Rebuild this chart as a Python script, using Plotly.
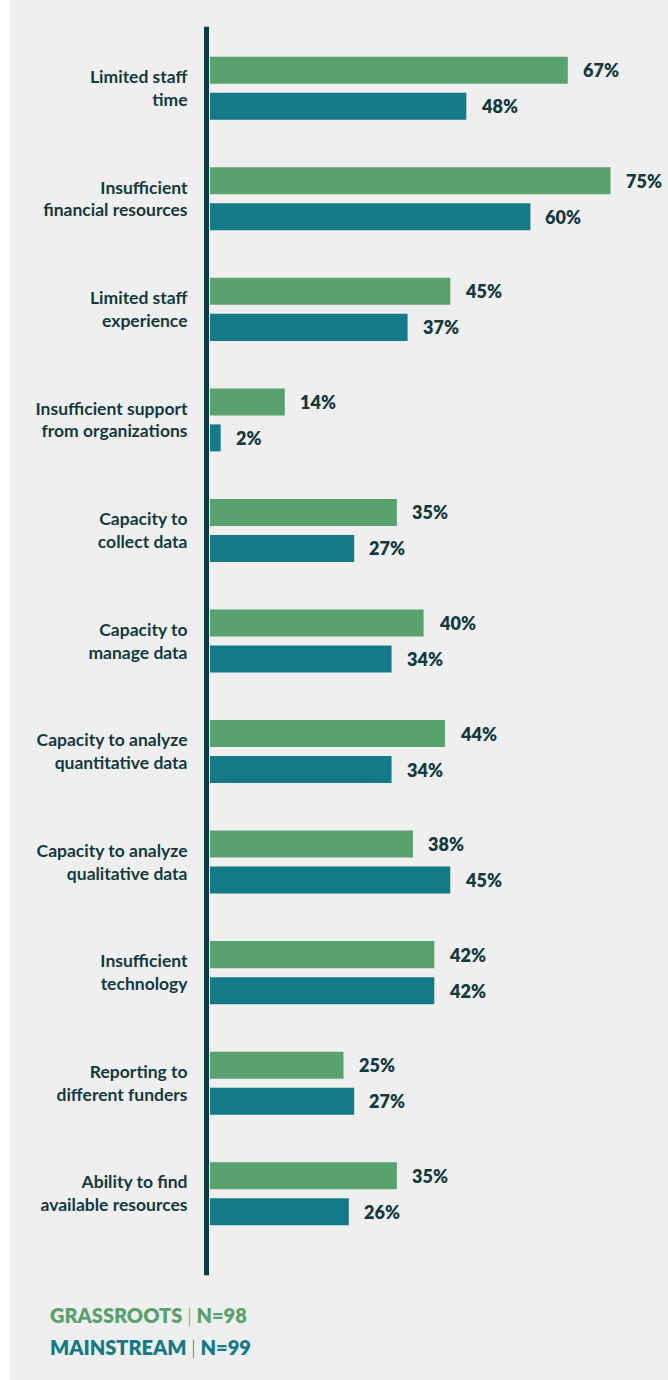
import plotly.graph_objects as go

categories = [
    "Limited staff<br>time",
    "Insufficient<br>financial resources",
    "Limited staff<br>experience",
    "Insufficient support<br>from organizations",
    "Capacity to<br>collect data",
    "Capacity to<br>manage data",
    "Capacity to analyze<br>quantitative data",
    "Capacity to analyze<br>qualitative data",
    "Insufficient<br>technology",
    "Reporting to<br>different funders",
    "Ability to find<br>available resources",
]
grassroots = [67, 75, 45, 14, 35, 40, 44, 38, 42, 25, 35]
mainstream = [48, 60, 37, 2, 27, 34, 34, 45, 42, 27, 26]
series_names = ["GRASSROOTS", "MAINSTREAM"]
series_n = ["N=98", "N=99"]

GREEN = "#59a26e"
TEAL = "#157a87"
DARK = "#143a40"
BG = "#efefef"

W, H = 668, 1380
ML, MR, MT, MB = 210, 0, 33.25, 131.25
PW = W - ML - MR
PH = H - MT - MB
PX_PER_PCT = 5.34


def px_x(px):
    return (px - ML) / PW


def px_y(py):
    return (H - MB - py) / PH


fig = go.Figure()
fig.add_trace(go.Bar(y=categories, x=grassroots, orientation="h",
                     marker=dict(color=GREEN, line=dict(width=0)),
                     name=series_names[0], hoverinfo="x"))
fig.add_trace(go.Bar(y=categories, x=mainstream, orientation="h",
                     marker=dict(color=TEAL, line=dict(width=0)),
                     name=series_names[1], hoverinfo="x"))

annotations = []
for vals, shift in ((grassroots, 18), (mainstream, -18)):
    for c, v in zip(categories, vals):
        annotations.append(dict(
            x=v, y=c, xref="x", yref="y", text=f"{v}%", showarrow=False,
            xanchor="left", yanchor="middle", xshift=13, yshift=shift,
            font=dict(family="Lato", size=18, color=DARK, weight=800)))

for i, (nm, n, col, ypx) in enumerate(zip(series_names, series_n, [GREEN, TEAL], [1314.5, 1346.5])):
    annotations.append(dict(
        x=px_x(48), y=px_y(ypx), xref="paper", yref="paper",
        text=f"{nm} <span style='font-weight:300'>|</span> {n}",
        showarrow=False, xanchor="left", yanchor="middle",
        font=dict(family="Lato", size=20, color=col, weight=800)))

shapes = [
    dict(type="rect", xref="paper", yref="paper", x0=px_x(0), x1=px_x(10),
         y0=px_y(H), y1=px_y(0), fillcolor="white", line=dict(width=0), layer="below"),
    dict(type="line", xref="paper", yref="paper", x0=px_x(206.5), x1=px_x(206.5),
         y0=px_y(27), y1=px_y(1275), line=dict(color="#0b3a3f", width=5)),
]

fig.update_layout(
    width=W, height=H,
    margin=dict(l=ML, r=MR, t=MT, b=MB, pad=0),
    paper_bgcolor=BG, plot_bgcolor=BG,
    barmode="group", bargap=0.3484, bargroupgap=0.25,
    showlegend=False,
    annotations=annotations, shapes=shapes,
    xaxis=dict(range=[0, PW / PX_PER_PCT], visible=False, fixedrange=True),
    yaxis=dict(autorange="reversed", showgrid=False, zeroline=False, showline=False,
               ticks="outside", ticklen=18, tickcolor="rgba(0,0,0,0)",
               tickfont=dict(family="Lato", size=17.5, color=DARK, weight=700),
               fixedrange=True),
)

fig.write_html("out.html",
               post_script="document.body.style.margin='0';document.body.style.overflow='hidden';",
               config={"displayModeBar": False})
